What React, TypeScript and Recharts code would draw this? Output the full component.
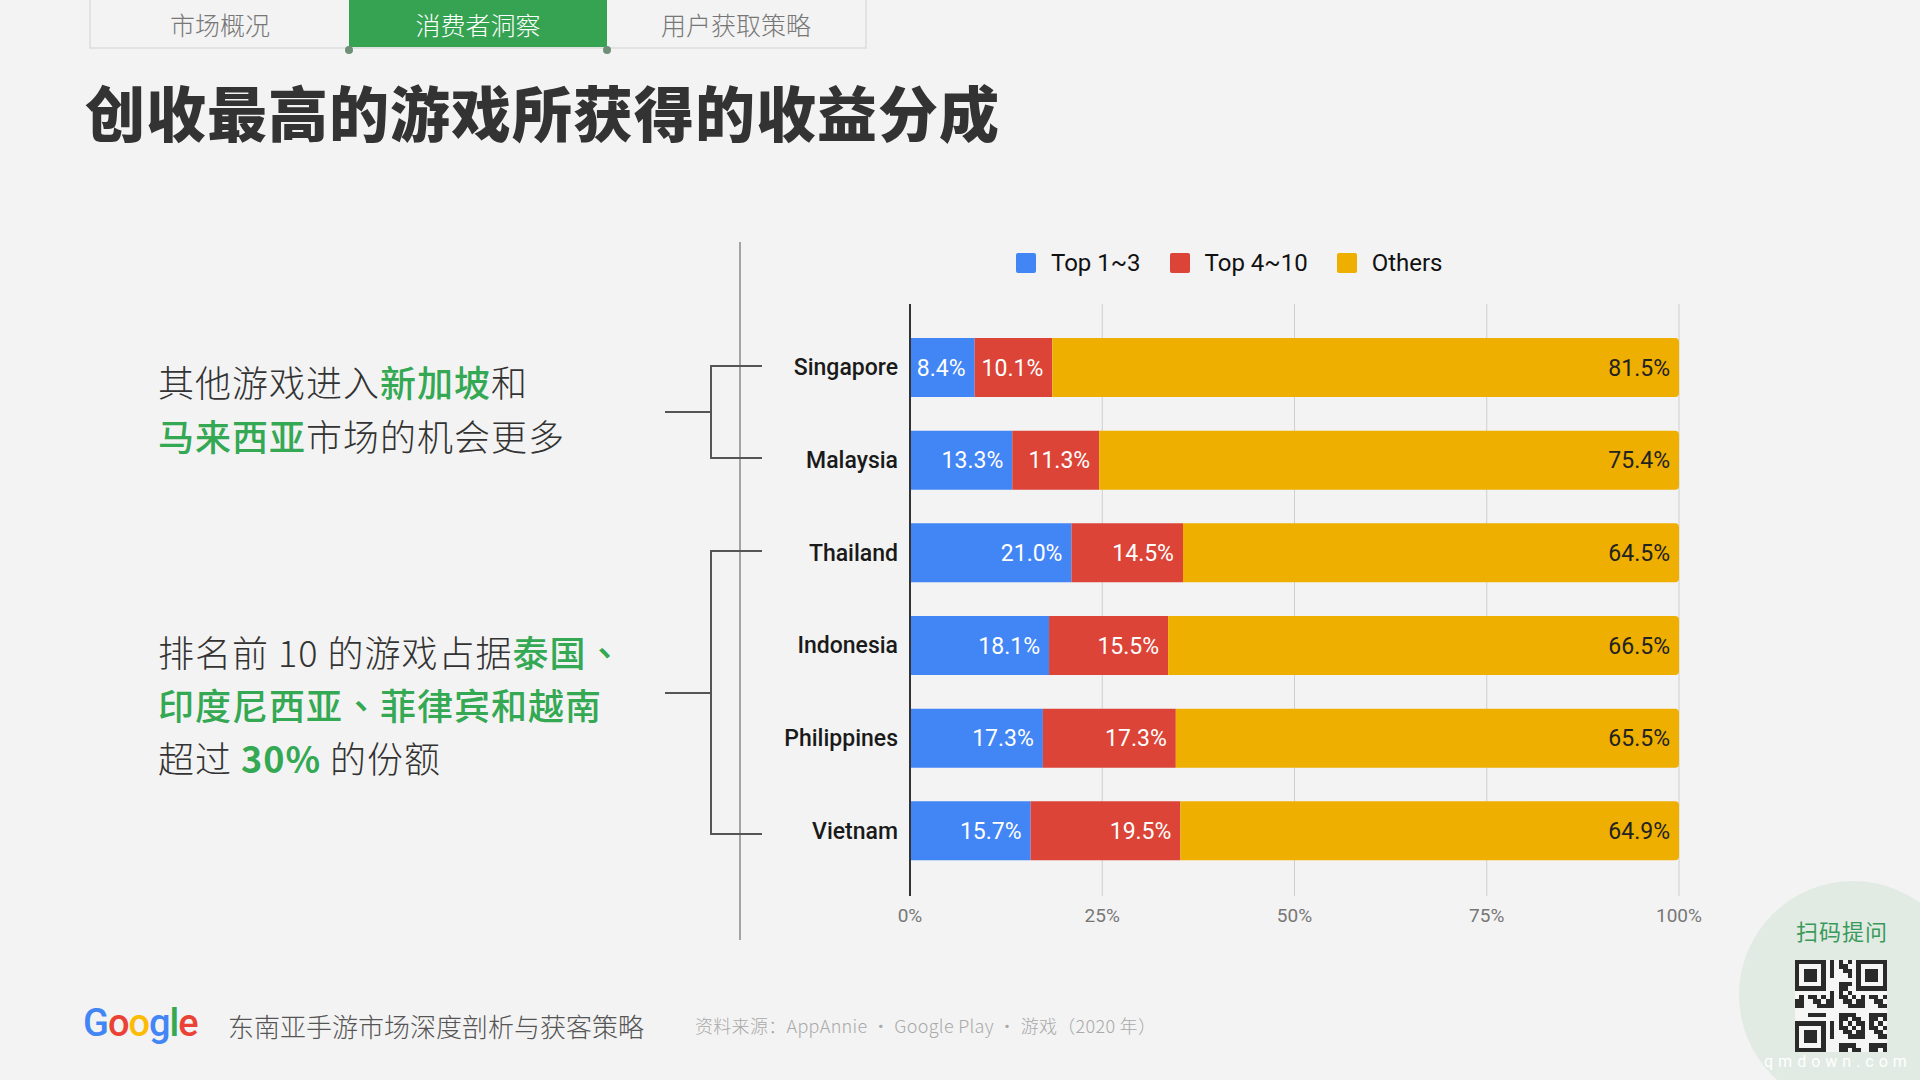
import React from "react";
import {
  BarChart,
  Bar,
  XAxis,
  YAxis,
  CartesianGrid,
  Legend,
  LabelList,
} from "recharts";

const countries = ["Singapore", "Malaysia", "Thailand", "Indonesia", "Philippines", "Vietnam"];
const top1to3 = [8.4, 13.3, 21.0, 18.1, 17.3, 15.7];
const top4to10 = [10.1, 11.3, 14.5, 15.5, 17.3, 19.5];
const others = [81.5, 75.4, 64.5, 66.5, 65.5, 64.9];
const xTicks = [0, 0.25, 0.5, 0.75, 1];

const seriesNames = ["Top 1~3", "Top 4~10", "Others"];
const seriesKeys = ["t13", "t410", "oth"];
const seriesColors = ["#4285F4", "#DB4437", "#EEAF00"];
const labelColors = ["#ffffff", "#ffffff", "#222222"];

const tabs = ["市场概况", "消费者洞察", "用户获取策略"];

const data = countries.map((country, i) => ({
  country,
  t13: top1to3[i],
  t410: top4to10[i],
  oth: others[i],
}));

const GREEN = "#34A853";
const CJK = '"Noto Sans CJK SC", "Noto Sans", sans-serif';
const CJK_TC = '"Noto Sans CJK TC", "Noto Sans CJK SC", sans-serif';

const pct = (v: any) => `${Number(v).toFixed(1)}%`;

const LegendRow = () => (
  <div style={{ display: "flex", alignItems: "center", fontFamily: "Roboto, sans-serif", fontSize: 24, color: "#111" }}>
    {seriesNames.map((name, i) => (
      <div key={name} style={{ display: "flex", alignItems: "center", marginRight: 29 }}>
        <div style={{ width: 20, height: 20, background: seriesColors[i], borderRadius: 2, marginRight: 15 }} />
        <span>{name}</span>
      </div>
    ))}
  </div>
);

const ShareChart = () => (
  <BarChart
    width={1150}
    height={716}
    data={data}
    layout="vertical"
    stackOffset="expand"
    margin={{ top: 74, right: 71, bottom: 10, left: 0 }}
    style={{ position: "absolute", left: 600, top: 230 }}
  >
    <CartesianGrid horizontal={false} stroke="#cfcfcf" />
    <XAxis
      type="number"
      domain={[0, 1]}
      ticks={xTicks}
      tickFormatter={(v: number) => `${Math.round(v * 100)}%`}
      axisLine={false}
      tickLine={false}
      tickMargin={7}
      height={40}
      tick={{ fill: "#777", fontSize: 19, fontFamily: "Roboto, sans-serif" }}
    />
    <YAxis
      type="category"
      dataKey="country"
      width={310}
      padding={{ top: 17, bottom: 19 }}
      tickLine={false}
      tickMargin={6}
      axisLine={{ stroke: "#333", strokeWidth: 2 }}
      tick={{ fill: "#1a1a1a", fontSize: 23, fontWeight: 500, fontFamily: "Roboto, sans-serif" }}
    />
    <Legend
      verticalAlign="middle"
      align="center"
      layout="horizontal"
      wrapperStyle={{ top: 19, left: 416, width: 600 }}
      content={() => <LegendRow />}
    />
    {seriesKeys.map((key, i) => (
      <Bar
        key={key}
        dataKey={key}
        name={seriesNames[i]}
        stackId="a"
        fill={seriesColors[i]}
        barSize={59}
        radius={i === 2 ? [0, 4, 4, 0] : 0}
        isAnimationActive={false}
      >
        <LabelList
          dataKey={key}
          position="insideRight"
          offset={9}
          formatter={pct}
          style={{ fill: labelColors[i], fontSize: 23, fontWeight: 400, fontFamily: "Roboto, sans-serif" }}
        />
      </Bar>
    ))}
  </BarChart>
);

const qrModules = (() => {
  const n = 21;
  const cells: boolean[][] = [];
  const finder = (r: number, c: number) => {
    const inF = (r0: number, c0: number) => {
      const rr = r - r0, cc = c - c0;
      if (rr < 0 || rr > 6 || cc < 0 || cc > 6) return null;
      if (rr === 0 || rr === 6 || cc === 0 || cc === 6) return true;
      if (rr >= 2 && rr <= 4 && cc >= 2 && cc <= 4) return true;
      return false;
    };
    return inF(0, 0) ?? inF(0, 14) ?? inF(14, 0);
  };
  for (let r = 0; r < n; r++) {
    const row: boolean[] = [];
    for (let c = 0; c < n; c++) {
      const f = finder(r, c);
      if (f !== null) row.push(f);
      else if ((r === 7 && c < 8) || (c === 7 && r < 8) || (r === 7 && c > 12) || (c === 13 && r < 8) || (r === 13 && c < 8) || (c === 7 && r > 12)) row.push(false);
      else row.push(((r * 5 + c * 3 + r * c) % 7) < 4);
    }
    cells.push(row);
  }
  return cells;
})();

const Line = ({ x1, y1, x2, y2, color = "#555", w = 2 }: any) => (
  <line x1={x1} y1={y1} x2={x2} y2={y2} stroke={color} strokeWidth={w} />
);

const Dun = () => <span style={{ fontFamily: CJK_TC }}>、</span>;

export default function App() {
  return (
    <div
      style={{
        position: "absolute",
        left: 0,
        top: 0,
        width: 1920,
        height: 1080,
        overflow: "hidden",
        background: "#f3f3f3",
        fontFamily: CJK,
      }}
    >
      {/* tabs */}
      <div style={{ position: "absolute", left: 89, top: -2, width: 778, height: 51, border: "2px solid #e2e2e2", boxSizing: "border-box", display: "flex" }}>
        {tabs.map((t, i) => (
          <div
            key={t}
            style={{
              flex: 1,
              display: "flex",
              alignItems: "center",
              justifyContent: "center",
              fontSize: 25,
              fontWeight: 300,
              color: i === 1 ? "#fff" : "#777",
              background: i === 1 ? "#36A352" : "transparent",
            }}
          >
            {t}
          </div>
        ))}
      </div>
      <div style={{ position: "absolute", left: 345, top: 46, width: 8, height: 8, borderRadius: 4, background: "#6f8f77" }} />
      <div style={{ position: "absolute", left: 603, top: 46, width: 8, height: 8, borderRadius: 4, background: "#6f8f77" }} />

      {/* title */}
      <div style={{ position: "absolute", left: 85, top: 76, fontSize: 60, fontWeight: 900, color: "#333", lineHeight: "70px", letterSpacing: 1 }}>
        创收最高的游戏所获得的收益分成
      </div>

      {/* left notes */}
      <div style={{ position: "absolute", left: 158, top: 354, fontSize: 36, lineHeight: "54px", color: "#333", fontWeight: 300, letterSpacing: 1 }}>
        <div>
          其他游戏进入<span style={{ color: GREEN, fontWeight: 500 }}>新加坡</span>和
        </div>
        <div>
          <span style={{ color: GREEN, fontWeight: 500 }}>马来西亚</span>市场的机会更多
        </div>
      </div>
      <div style={{ position: "absolute", left: 158, top: 625, fontSize: 36, lineHeight: "53px", color: "#333", fontWeight: 300, letterSpacing: 1 }}>
        <div>
          排名前 10 的游戏占据<span style={{ color: GREEN, fontWeight: 500 }}>泰国<Dun /></span>
        </div>
        <div>
          <span style={{ color: GREEN, fontWeight: 500 }}>印度尼西亚<Dun />菲律宾和越南</span>
        </div>
        <div>
          超过 <span style={{ color: GREEN, fontWeight: 700 }}>30%</span> 的份额
        </div>
      </div>

      {/* brackets */}
      <svg width={1920} height={1080} style={{ position: "absolute", left: 0, top: 0 }}>
        <Line x1={740} y1={242} x2={740} y2={940} color="#888" w={1.5} />
        <Line x1={711} y1={366} x2={711} y2={458} />
        <Line x1={710} y1={366} x2={762} y2={366} />
        <Line x1={710} y1={458} x2={762} y2={458} />
        <Line x1={665} y1={412} x2={711} y2={412} />
        <Line x1={711} y1={551} x2={711} y2={834} />
        <Line x1={710} y1={551} x2={762} y2={551} />
        <Line x1={710} y1={834} x2={762} y2={834} />
        <Line x1={665} y1={693} x2={711} y2={693} />
        <circle cx={1853} cy={995} r={114} fill="#e1ebe4" />
      </svg>

      <ShareChart />

      {/* footer */}
      <div style={{ position: "absolute", left: 83, top: 1000, fontSize: 38, fontFamily: "Roboto, sans-serif", fontWeight: 500, letterSpacing: -1, lineHeight: "46px" }}>
        <span style={{ color: "#4285F4" }}>G</span>
        <span style={{ color: "#EA4335" }}>o</span>
        <span style={{ color: "#FBBC05" }}>o</span>
        <span style={{ color: "#4285F4" }}>g</span>
        <span style={{ color: "#34A853" }}>l</span>
        <span style={{ color: "#EA4335" }}>e</span>
      </div>
      <div style={{ position: "absolute", left: 228, top: 1008, fontSize: 26, color: "#555", fontWeight: 300, lineHeight: "36px" }}>
        东南亚手游市场深度剖析与获客策略
      </div>
      <div style={{ position: "absolute", left: 695, top: 1011, fontSize: 18, color: "#a9a9a9", fontWeight: 300, lineHeight: "28px", letterSpacing: 0.3 }}>
        资料来源：AppAnnie · Google Play · 游戏（2020 年）
      </div>

      {/* QR corner */}
      <div style={{ position: "absolute", left: 1796, top: 916, fontSize: 22, color: "#3a9a5a", fontWeight: 400, lineHeight: "28px", letterSpacing: 1 }}>
        扫码提问
      </div>
      <div style={{ position: "absolute", left: 1795, top: 960, width: 92, height: 92, display: "grid", gridTemplateColumns: "repeat(21, 1fr)", background: "#f6f6f6" }}>
        {qrModules.flatMap((row, r) =>
          row.map((on, c) => <div key={`${r}-${c}`} style={{ background: on ? "#2a2a2a" : "transparent" }} />)
        )}
      </div>
      <div style={{ position: "absolute", left: 1764, top: 1052, fontSize: 16, color: "#ffffff", letterSpacing: 5, fontFamily: "Roboto, sans-serif" }}>
        qmdown.com
      </div>
    </div>
  );
}
